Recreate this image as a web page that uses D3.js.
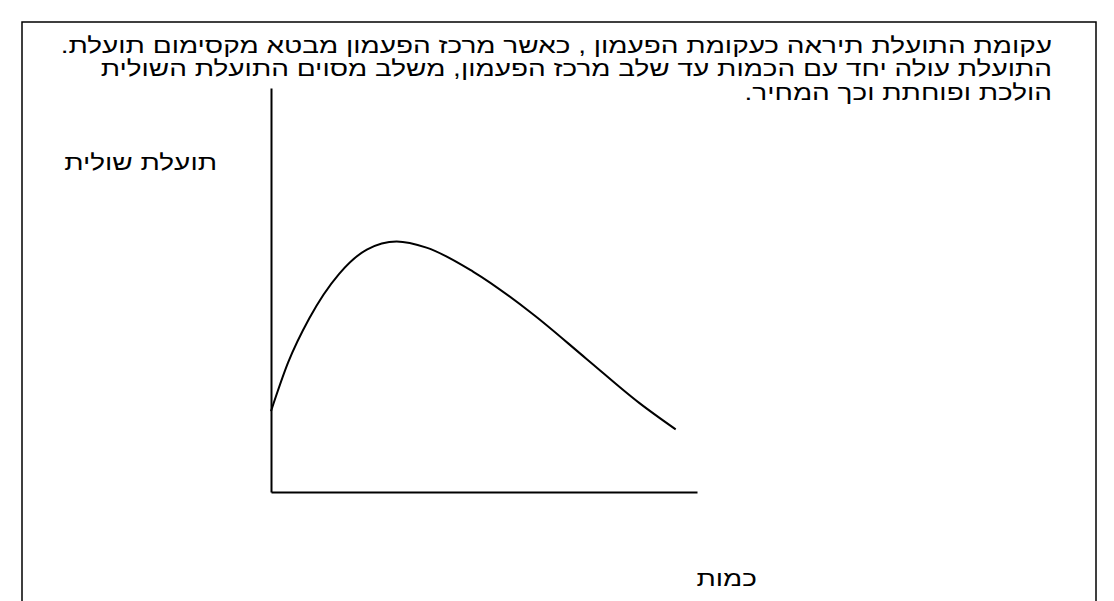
<!DOCTYPE html>
<html lang="he">
<head>
    <meta charset="UTF-8">
    <title>Marginal utility curve</title>
    <script src="https://cdn.jsdelivr.net/npm/d3@7"></script>
    <style>
        body{
            margin: 0;
            background: #ffffff;
        }
        text{
            font-family: "Liberation Sans", Arial, sans-serif;
            fill: #000;
        }
    </style>
</head>
<body>
<svg id="fig" width="1114" height="601"></svg>

<script>
    // text lines above the chart (right to left)
    let noteLines = [
        "עקומת התועלת תיראה כעקומת הפעמון , כאשר מרכז הפעמון מבטא מקסימום תועלת.",
        "התועלת עולה יחד עם הכמות עד שלב מרכז הפעמון, משלב מסוים התועלת השולית",
        "הולכת ופוחתת וכך המחיר."
    ]
    let yLabel = "תועלת שולית"
    let xLabel = "כמות"

    // curve (quantity 0-100, utility 0-100)
    let quantity = [0, 4, 9, 16, 22.5, 29.5, 36.5, 47.5, 61.5, 74, 86.5, 95]
    let utility  = [20, 32, 43, 54, 60, 62, 60.5, 54.5, 44, 33, 22, 15.5]

    const svg = d3.select("#fig")

    // the picture's lettering is wide for its height, so stretch it sideways
    const fontSize = 22
    const stretch = 28 / 22

    function addText(str, ax, ay) {
        return svg.append("text")
            .attr("direction", "rtl")
            .attr("text-anchor", "start")
            .attr("transform", "translate(" + ax + "," + ay + ") scale(" + stretch + ",1)")
            .attr("font-size", fontSize + "px")
            .text(str)
    }

    // outer frame, bottom runs off the page
    svg.append("rect")
        .attr("x", 22)
        .attr("y", 22)
        .attr("width", 1074)
        .attr("height", 700)
        .attr("fill", "none")
        .attr("stroke", "#000")
        .attr("stroke-width", 1.5)

    // note text
    noteLines.forEach((s, i) => addText(s, 1052, 52.5 + i * 23.5))

    const plotLeft = 271, plotRight = 697, plotTop = 88, plotBottom = 492

    let x = d3.scaleLinear().domain([0, 100]).range([plotLeft, plotRight])
    let y = d3.scaleLinear().domain([0, 100]).range([plotBottom, plotTop])

    // axes: plain lines, no ticks
    svg.append("g")
        .attr("transform", "translate(0," + plotBottom + ")")
        .call(d3.axisBottom(x).ticks(0).tickSizeOuter(0))
        .select(".domain")
        .attr("stroke-width", 2)
    svg.append("g")
        .attr("transform", "translate(" + plotLeft + ",0)")
        .call(d3.axisLeft(y).ticks(0).tickSizeOuter(0))
        .select(".domain")
        .attr("stroke-width", 2)

    let points = quantity.map((q, i) => [q, utility[i]])
    let line = d3.line()
        .x(d => x(d[0]))
        .y(d => y(d[1]))
        .curve(d3.curveMonotoneX)

    svg.append("path")
        .datum(points)
        .attr("d", line)
        .attr("fill", "none")
        .attr("stroke", "#000")
        .attr("stroke-width", 2)

    // axis labels
    addText(yLabel, 217, 170)
    addText(xLabel, 757, 586)
</script>

</body>
</html>
